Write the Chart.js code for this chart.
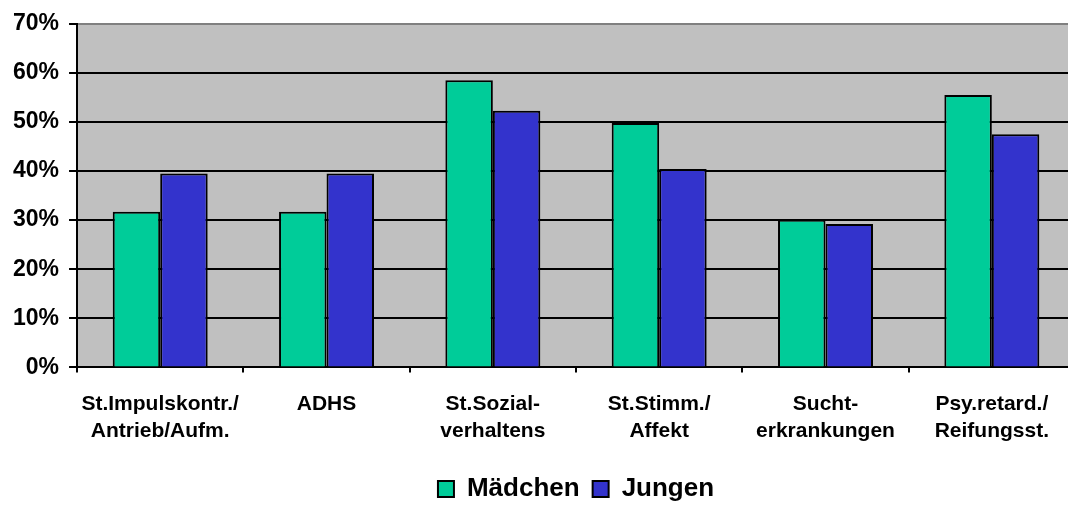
<!DOCTYPE html>
<html>
<head>
<meta charset="utf-8">
<script src="https://cdn.jsdelivr.net/npm/chart.js@4.4.1/dist/chart.umd.min.js"></script>
<style>
  html, body { margin: 0; padding: 0; background: #fff; overflow: hidden; }
  #wrap { position: relative; width: 1136px; height: 505px; }
</style>
</head>
<body>
<div id="wrap"><canvas id="barChart"></canvas></div>
<script>
// Störungsbilder nach Geschlecht (Anteil in %)
const categories = [
    ['St.Impulskontr./', 'Antrieb/Aufm.'],
    'ADHS',
    ['St.Sozial-', 'verhaltens'],
    ['St.Stimm./', 'Affekt'],
    ['Sucht-', 'erkrankungen'],
    ['Psy.retard./', 'Reifungsst.']
];
const maedchen = [31.7, 31.7, 58.5, 49.8, 30.1, 55.5];
const jungen = [39.5, 39.5, 52.3, 40.4, 29.2, 47.5];
const yTicks = [0, 10, 20, 30, 40, 50, 60, 70];

const font = 'Liberation Sans, Arial, sans-serif';

const ctx = document.getElementById('barChart').getContext('2d');
new Chart(ctx, {
    type: 'bar',
    data: {
        labels: categories,
        datasets: [
            {
                label: 'Mädchen',
                data: maedchen,
                backgroundColor: '#00CC99',
                borderColor: '#000000',
                borderWidth: 2
            },
            {
                label: 'Jungen',
                data: jungen,
                backgroundColor: '#3333CC',
                borderColor: '#000000',
                borderWidth: 2
            }
        ]
    },
    plugins: [{
        // grauer Hintergrund der Zeichenfläche
        id: 'plotBg',
        beforeDraw(chart) {
            const a = chart.chartArea;
            const c = chart.ctx;
            c.save();
            c.fillStyle = '#C0C0C0';
            c.fillRect(a.left, a.top, a.right - a.left, a.bottom - a.top);
            c.restore();
        }
    }],
    options: {
        responsive: true,
        maintainAspectRatio: false,
        animation: false,
        categoryPercentage: 0.571,
        barPercentage: 1,
        layout: {
            padding: { top: 10, right: 61, left: 3, bottom: -7 }
        },
        plugins: {
            title: { display: false },
            tooltip: { enabled: false },
            legend: {
                position: 'bottom',
                fullSize: false,
                labels: {
                    color: '#000',
                    font: { family: font, size: 26, weight: 'bold' },
                    boxWidth: 16,
                    boxHeight: 16,
                    padding: 13,
                    useBorderRadius: false
                }
            }
        },
        scales: {
            x: {
                grid: {
                    drawOnChartArea: false,
                    drawTicks: true,
                    tickLength: 5,
                    color: '#000',
                    lineWidth: 2
                },
                border: { color: '#000', width: 2 },
                ticks: {
                    color: '#000',
                    font: { family: font, size: 21, weight: 'bold', lineHeight: 1.3 },
                    maxRotation: 0,
                    autoSkip: false,
                    padding: 18
                }
            },
            y: {
                min: 0,
                max: 70,
                afterBuildTicks(axis) {
                    axis.ticks = yTicks.map(v => ({ value: v }));
                },
                grid: {
                    color: c => (c.tick && c.tick.value === 70 ? '#808080' : '#000'),
                    tickColor: '#000',
                    lineWidth: 2,
                    tickLength: 8
                },
                border: { color: '#000', width: 2 },
                ticks: {
                    color: '#000',
                    font: { family: font, size: 23, weight: 'bold' },
                    padding: 10,
                    callback: v => v + '%'
                }
            }
        }
    }
});
</script>
</body>
</html>
